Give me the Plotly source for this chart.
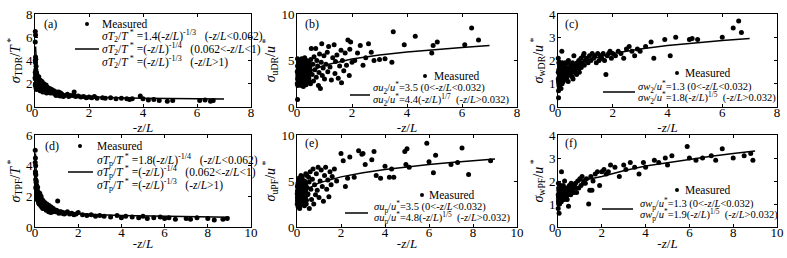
import plotly.graph_objects as go

W, H = 787, 258

# ---------------- data ----------------
a_x = [0.01,0.02,0.01,0.02,0.03,0.02,0.04,0.03,0.05,0.02,
       0.06,0.04,0.08,0.10,0.05,0.12,0.07,0.15,0.10,0.20,
       0.18,0.25,0.22,0.30,0.28,0.35,0.40,0.38,0.45,0.50,
       0.55,0.60,0.65,0.70,0.75,0.80,0.85,0.90,0.95,1.00,
       1.05,1.10,1.20,1.25,1.30,1.40,1.45,1.50,1.60,1.70,
       1.80,1.90,2.00,2.10,2.20,2.30,2.50,2.60,2.80,3.00,
       3.20,3.40,3.50,3.60,3.90,4.00,4.20,4.40,4.60,4.90,
       5.10,6.10,6.30,6.50,6.60,0.02,0.03,0.05,0.06,0.08,
       0.09,0.11,0.13,0.14,0.16,0.17,0.19,0.21,0.23,0.24,
       0.26,0.27,0.29,0.31,0.33,0.34,0.36,0.39,0.41,0.43,
       0.46,0.48,0.52,0.57,0.62,0.67,0.72,0.78,0.83,0.88,
       0.93,0.98,0.01,0.00,0.01,0.02,0.01,0.04,0.06,0.03]
a_y = [6.5,6.2,5.6,4.3,4.1,3.8,3.5,3.2,3.0,2.8,
       2.9,2.6,2.7,2.5,2.3,2.4,2.1,2.2,1.9,2.3,
       1.8,2.0,1.6,1.9,1.5,1.7,1.6,1.3,1.5,1.4,
       1.6,1.3,1.2,1.4,1.1,1.3,1.2,1.0,1.2,1.1,
       0.9,1.0,1.1,0.9,1.0,1.0,1.3,0.9,0.95,0.85,
       0.9,0.8,0.85,0.8,0.9,0.75,0.8,0.75,0.8,0.7,
       0.75,0.7,0.65,0.7,0.95,0.7,0.6,0.65,0.55,0.5,
       0.55,0.55,0.6,0.5,0.55,2.0,1.8,1.7,2.2,1.9,
       2.4,1.7,2.0,2.6,1.6,2.3,1.4,2.1,1.8,1.5,
       2.2,1.7,1.3,1.6,2.0,1.4,1.8,1.5,1.9,1.2,
       1.7,1.3,1.5,1.2,1.5,1.3,1.2,1.0,1.1,1.3,
       0.95,1.05,1.9,2.5,3.0,2.4,4.0,1.6,1.5,2.0]
fit_a_x = [0.02,0.04,0.062,0.1,0.2,0.4,0.6,1,1.5,2,3,4,5,6,7]
fit_a_y = [5.2,4.1,3.5,1.8,1.5,1.26,1.14,1.0,0.93,0.88,0.8,0.76,0.73,0.71,0.69]

b_x = [0.02,0.01,0.02,0.03,0.04,0.05,0.06,0.02,0.07,0.08,
       0.09,0.10,0.11,0.12,0.13,0.14,0.15,0.16,0.17,0.18,
       0.19,0.20,0.21,0.22,0.23,0.24,0.25,0.26,0.27,0.28,
       0.30,0.31,0.32,0.33,0.35,0.36,0.38,0.40,0.41,0.43,
       0.45,0.47,0.49,0.50,0.52,0.55,0.58,0.60,0.62,0.65,
       0.68,0.70,0.72,0.75,0.78,0.80,0.82,0.85,0.88,0.90,
       0.92,0.95,0.98,1.00,1.05,1.10,1.12,1.15,1.20,1.25,
       1.30,1.35,1.38,1.40,1.45,1.50,1.55,1.60,1.62,1.65,
       1.70,1.75,1.80,1.85,1.90,1.92,1.95,2.00,2.10,2.20,
       2.30,2.40,2.50,2.60,2.70,2.80,3.00,3.20,3.50,3.45,
       3.90,4.30,4.90,4.95,5.10,6.10,6.35,6.60,0.03,0.05,
       0.07,0.09,0.11,0.13,0.15,0.17,0.19,0.21,0.23,0.25,
       0.27,0.29,0.31,0.34,0.37,0.39,0.42,0.44,0.46,0.48,
       0.04,0.06,0.08,0.12,0.14,0.18,0.22,0.26,0.32,0.36,
       0.01,0.02,0.03,0.04,0.05,0.06,0.07,0.08,0.09,0.10,
       0.11,0.12,0.13,0.14,0.15,0.16,0.17,0.18,0.19,0.20,
       0.21,0.22,0.24,0.26,0.28,0.30,0.33,0.35,0.38,0.42]
b_y = [0.8,2.5,3.0,3.5,4.0,4.5,5.0,5.2,2.8,3.3,
       3.8,4.3,4.8,2.4,3.1,3.6,4.1,4.6,5.2,2.7,
       3.4,3.9,4.4,4.9,2.2,3.0,3.5,4.2,4.7,5.3,
       2.6,3.2,3.7,4.5,5.0,2.9,3.4,4.0,4.6,3.1,
       3.8,4.3,2.5,5.1,6.3,3.5,4.6,2.8,5.4,4.0,
       6.3,3.2,5.0,4.4,2.3,3.7,5.7,2.0,4.8,6.8,
       3.4,4.2,5.5,3.0,4.6,5.9,3.8,6.5,4.3,2.9,
       5.3,6.7,3.6,4.9,5.6,3.1,4.4,6.1,2.6,5.0,
       3.9,5.8,4.5,7.2,3.4,6.2,7.0,4.8,5.0,5.8,
       6.6,4.5,5.3,6.8,5.9,5.0,5.1,5.2,8.1,4.8,
       6.7,7.6,5.8,6.6,7.0,6.7,8.5,7.2,2.3,2.7,
       3.6,4.1,2.9,3.3,5.0,3.8,2.6,4.6,3.9,2.4,
       3.2,4.9,3.5,2.8,4.3,3.0,3.6,4.8,2.7,3.9,
       3.3,4.2,2.6,3.7,4.5,3.1,2.9,4.0,3.5,3.0,
       3.8,4.4,2.6,3.2,3.9,2.5,4.1,4.9,2.9,3.6,
       2.6,4.0,4.6,3.0,3.7,2.3,4.3,3.3,4.9,2.9,
       3.7,4.2,3.3,2.9,3.8,4.3,2.4,3.9,4.9,3.4]
fit_b_x = [0.05,0.2,0.5,1,2,3,4,5,6,7]
fit_b_y = [2.46,3.25,3.9,4.48,5.15,5.58,5.91,6.19,6.41,6.6]

c_x = [0.02,0.01,0.02,0.03,0.04,0.05,0.06,0.07,0.08,0.09,
       0.10,0.11,0.12,0.13,0.14,0.15,0.16,0.17,0.18,0.19,
       0.20,0.22,0.24,0.26,0.28,0.30,0.32,0.34,0.36,0.38,
       0.40,0.42,0.45,0.48,0.50,0.53,0.56,0.60,0.63,0.66,
       0.70,0.73,0.76,0.80,0.84,0.88,0.92,0.96,1.00,1.05,
       1.10,1.15,1.20,1.25,1.30,1.35,1.40,1.45,1.50,1.55,
       1.60,1.65,1.70,1.75,1.80,1.85,1.90,1.95,2.00,2.10,
       2.20,2.30,2.40,2.50,2.60,2.70,2.80,2.90,3.00,3.20,
       3.40,3.50,3.90,4.10,4.30,4.80,4.90,5.10,6.00,6.40,
       6.60,6.70,0.15,0.25,0.35,0.55,0.65,0.75,0.85,0.95,
       0.01,0.03,0.05,0.07,0.09,0.11,0.13,0.21,0.23,0.27,
       0.29,0.31,0.33,0.37,0.43,0.47,0.52,0.58,0.68,0.78,
       0.01,0.02,0.03,0.04,0.05,0.06,0.07,0.08,0.09,0.10,
       0.12,0.14,0.16,0.18,0.20,0.22,0.25,0.28,0.30,0.35]
c_y = [0.4,2.1,0.7,1.6,0.9,1.4,1.1,1.8,1.0,1.5,
       1.3,0.8,1.7,1.2,2.4,1.0,1.5,1.3,1.8,1.1,
       1.4,1.6,1.2,1.9,1.4,1.5,1.7,1.3,1.6,2.0,
       1.5,1.7,1.4,1.8,1.6,1.9,1.5,1.7,1.8,1.6,
       1.9,1.7,2.0,1.8,2.1,1.9,2.2,1.8,2.0,2.1,
       1.9,2.2,2.0,2.3,2.1,2.2,1.9,2.3,2.0,2.2,
       2.1,2.3,2.0,1.4,2.2,2.3,2.4,2.1,2.3,2.2,
       2.4,2.3,2.1,2.5,2.6,2.4,2.2,2.5,2.4,2.6,
       2.8,2.1,2.9,2.2,3.0,2.9,2.95,2.9,3.0,3.4,
       3.7,3.2,1.9,1.7,1.9,1.2,1.5,1.6,1.7,2.3,
       1.2,1.0,0.8,1.3,1.6,1.4,1.1,1.3,1.7,1.5,
       1.2,1.3,1.5,1.1,1.4,1.5,1.3,2.2,1.4,1.5,
       1.5,1.1,1.9,1.3,0.9,1.7,1.3,1.5,1.8,1.1,
       1.5,1.3,1.7,1.5,1.2,1.8,1.5,1.6,1.3,1.6]
fit_c_x = [0.05,0.2,0.5,1,2,3,4,5,6,7]
fit_c_y = [1.1,1.45,1.74,2.0,2.3,2.49,2.64,2.76,2.86,2.95]

d_x = [0.01,0.02,0.01,0.03,0.02,0.04,0.03,0.05,0.06,0.04,
       0.08,0.07,0.10,0.09,0.12,0.11,0.14,0.15,0.18,0.20,
       0.22,0.25,0.28,0.30,0.33,0.35,0.38,0.40,0.45,0.50,
       0.55,0.60,0.65,0.70,0.75,0.80,0.85,0.90,0.95,1.00,
       1.05,1.10,1.20,1.30,1.40,1.50,1.60,1.70,1.80,1.90,
       2.00,2.20,2.40,2.60,2.80,3.00,3.20,3.50,3.80,4.00,
       4.20,4.50,4.80,5.00,5.20,5.50,5.80,6.00,6.20,6.50,
       7.00,7.20,7.50,8.00,8.30,8.70,8.90,0.02,0.05,0.07,
       0.09,0.13,0.16,0.19,0.23,0.26,0.31,0.36,0.42,0.47,
       0.52,0.58,0.63,0.68,0.73,0.83,0.93,1.15,1.25,1.35]
d_y = [5.0,4.5,4.2,4.0,3.6,3.4,3.1,2.9,3.0,2.6,
       2.7,2.4,2.5,2.2,2.6,2.0,2.3,1.9,2.1,1.8,
       2.2,1.7,2.0,1.6,1.8,1.5,1.7,1.4,1.6,1.3,
       1.5,1.2,1.4,1.1,1.3,1.0,1.2,1.1,1.0,1.1,
       1.7,0.9,1.0,0.95,0.9,1.0,0.85,0.9,0.8,0.85,
       0.95,0.8,0.75,0.8,0.7,0.75,0.7,0.65,0.75,0.6,
       0.7,0.65,0.6,0.7,0.55,0.6,0.65,0.55,0.6,0.5,
       0.55,0.5,0.6,0.55,0.45,0.5,0.55,3.5,2.5,2.1,
       1.8,1.9,1.6,1.5,1.7,1.4,1.3,1.2,1.4,1.2,
       1.1,1.3,1.0,1.2,0.95,1.0,1.05,1.0,0.9,0.85]
fit_d_x = [0.02,0.04,0.062,0.1,0.2,0.4,0.6,1,1.5,2,3,4,5,6,7,8,9]
fit_d_y = [4.8,4.0,3.6,1.78,1.5,1.26,1.14,1.0,0.92,0.87,0.8,0.75,0.72,0.69,0.67,0.65,0.63]

e_x = [0.01,0.02,0.03,0.04,0.05,0.06,0.07,0.08,0.09,0.10,
       0.11,0.12,0.13,0.14,0.15,0.16,0.17,0.18,0.19,0.20,
       0.22,0.24,0.26,0.28,0.30,0.32,0.34,0.36,0.38,0.40,
       0.43,0.46,0.50,0.53,0.56,0.60,0.63,0.66,0.70,0.73,
       0.76,0.80,0.84,0.88,0.92,0.96,1.00,1.05,1.10,1.15,
       1.20,1.25,1.30,1.35,1.40,1.45,1.50,1.55,1.60,1.70,
       1.80,2.00,2.10,2.20,2.30,2.40,2.60,2.80,2.95,3.00,
       3.10,3.40,3.50,3.60,3.80,4.00,4.20,4.30,4.40,4.90,
       4.95,5.00,5.10,5.90,6.00,6.20,6.30,7.00,7.30,7.50,
       7.80,8.80,0.03,0.05,0.07,0.09,0.11,0.13,0.17,0.21,
       0.23,0.27,0.29,0.31,0.35,0.39,0.42,0.45,0.48,0.55,
       0.02,0.04,0.06,0.08,0.12,0.14,0.18,0.25,0.33,0.37,
       0.01,0.02,0.03,0.04,0.05,0.06,0.07,0.08,0.09,0.10,
       0.12,0.14,0.16,0.18,0.20,0.22,0.26,0.30,0.34,0.40]
e_y = [2.5,3.2,4.0,4.6,2.2,3.6,5.0,2.8,4.2,3.4,
       4.8,2.0,3.8,4.4,2.6,5.2,3.0,4.0,2.4,4.7,
       3.3,5.5,2.7,4.1,3.7,5.0,2.3,4.5,3.2,5.8,
       2.9,4.3,3.6,5.4,2.0,6.0,4.1,3.0,5.2,6.3,
       2.5,4.6,3.5,5.8,4.0,6.5,3.2,5.0,6.2,4.4,
       2.8,5.6,6.5,4.1,5.1,3.3,6.0,4.6,5.5,6.3,
       5.0,8.0,7.2,4.4,5.3,7.6,5.4,8.3,7.9,8.0,
       6.8,7.3,8.2,5.6,5.3,6.6,5.4,6.3,5.4,8.2,
       6.8,8.5,6.5,9.1,7.1,5.9,7.8,6.8,7.0,8.6,
       5.7,7.2,2.9,4.3,3.1,5.3,2.6,4.6,3.4,2.9,
       5.1,3.6,4.9,2.8,3.9,4.7,2.5,5.6,3.5,4.9,
       3.8,3.0,2.4,4.5,3.9,2.7,5.6,4.4,3.1,4.0,
       3.6,4.4,2.8,3.3,4.8,2.9,3.9,4.5,3.1,2.7,
       3.4,4.8,3.7,2.9,3.5,4.3,3.2,4.1,5.0,3.8]
fit_e_x = [0.05,0.2,0.5,1,2,3,4,5,6,7,8,9]
fit_e_y = [2.63,3.48,4.18,4.8,5.45,5.9,6.25,6.55,6.8,7.02,7.22,7.4]

f_x = [0.01,0.02,0.03,0.04,0.05,0.06,0.07,0.08,0.09,0.10,
       0.12,0.14,0.16,0.18,0.20,0.22,0.24,0.26,0.28,0.30,
       0.33,0.36,0.40,0.44,0.48,0.52,0.56,0.60,0.65,0.70,
       0.75,0.80,0.85,0.90,0.95,1.00,1.05,1.10,1.15,1.20,
       1.30,1.40,1.50,1.55,1.60,1.70,1.80,1.90,2.00,2.10,
       2.20,2.30,2.40,2.60,2.80,3.00,3.10,3.30,3.50,3.70,
       3.90,4.00,4.40,4.60,4.90,5.00,5.20,5.90,6.00,6.30,
       6.60,7.00,7.20,7.50,8.00,8.50,8.80,8.90,0.02,0.04,
       0.06,0.08,0.11,0.13,0.15,0.17,0.19,0.21,0.25,0.29,
       0.34,0.38,0.42,0.50,0.58,0.62,0.68,0.78,1.25,1.45,
       0.01,0.02,0.03,0.04,0.05,0.06,0.07,0.08,0.09,0.10,
       0.12,0.14,0.16,0.18,0.22,0.26,0.32,0.44,0.55,0.72]
f_y = [0.8,1.9,1.2,1.6,0.6,1.4,1.0,1.8,1.3,1.5,
       1.1,1.7,2.4,1.3,1.6,1.2,1.8,1.4,1.5,2.0,
       1.3,1.6,1.7,1.4,0.9,1.8,1.5,1.9,1.6,1.7,
       1.8,1.9,1.5,2.0,1.7,2.1,1.8,2.2,1.9,2.0,
       2.1,1.0,2.2,1.6,2.0,2.3,2.4,1.8,2.4,2.5,
       2.3,2.4,2.7,2.6,2.2,2.7,2.5,2.8,2.6,2.3,
       2.8,2.6,2.9,2.8,3.0,2.7,3.1,3.5,3.0,2.9,
       3.0,3.1,2.9,3.4,3.0,3.1,3.2,2.9,1.3,1.0,
       1.7,1.2,1.5,1.3,1.1,1.6,1.4,1.3,1.5,1.2,
       1.4,1.3,1.2,1.5,1.4,1.6,1.5,1.7,1.9,1.6,
       1.4,1.1,1.7,1.0,1.5,1.2,1.6,1.3,1.1,1.8,
       1.4,1.2,1.5,1.7,1.4,1.6,1.7,1.6,1.7,1.5]
fit_f_x = [0.05,0.2,0.5,1,2,3,4,5,6,7,8,9]
fit_f_y = [1.2,1.5,1.8,2.0,2.2,2.45,2.65,2.8,2.95,3.08,3.2,3.3]

panel_labels = ["(a)", "(b)", "(c)", "(d)", "(e)", "(f)"]
y_titles = [
    "<i>σ</i><sub>TDR</sub>/<i>T</i><sup> *</sup>",
    "<i>σ</i><sub>uDR</sub>/<i>u</i><sup> *</sup>",
    "<i>σ</i><sub>wDR</sub>/<i>u</i><sup> *</sup>",
    "<i>σ</i><sub>TPF</sub>/<i>T</i><sup> *</sup>",
    "<i>σ</i><sub>uPF</sub>/<i>u</i><sup> *</sup>",
    "<i>σ</i><sub>wPF</sub>/<i>u</i><sup> *</sup>",
]
x_ticks_top = [0, 2, 4, 6, 8]
x_ticks_bot = [0, 2, 4, 6, 8, 10]
y_ticks = [[0, 2, 4, 6, 8], [0, 5, 10], [0, 1, 2, 3, 4],
           [0, 2, 4, 6], [0, 5, 10], [0, 1, 2, 3, 4]]

zl = "-<i>z</i>/<i>L</i>"
sp = "&#160;&#160;&#160;"
n1 = "&#160;"
legend_texts = [
    ["<i>σT</i><sub>2</sub>/<i>T</i><sup> *</sup>" + n1 + "=1.4(" + zl + ")<sup>-1/3</sup>" + sp + "(" + zl + "&lt;0.062)",
     "<i>σT</i><sub>2</sub>/<i>T</i><sup> *</sup>" + n1 + "=(" + zl + ")<sup>-1/4</sup>" + sp + "(0.062&lt;" + zl + "&lt;1)",
     "<i>σT</i><sub>2</sub>/<i>T</i><sup> *</sup>" + n1 + "=(" + zl + ")<sup>-1/3</sup>" + sp + "(" + zl + "&gt;1)"],
    ["<i>σu</i><sub>2</sub>/<i>u</i><sup>*</sup>=3.5 (0&lt;" + zl + "&lt;0.032)",
     "<i>σu</i><sub>2</sub>/<i>u</i><sup>*</sup>=4.4(" + zl + ")<sup>1/7</sup>" + n1 + n1 + "(" + zl + "&gt;0.032)"],
    ["<i>σw</i><sub>2</sub>/<i>u</i><sup>*</sup>=1.3 (0&lt;" + zl + "&lt;0.032)",
     "<i>σw</i><sub>2</sub>/<i>u</i><sup>*</sup>=1.8(" + zl + ")<sup>1/5</sup>" + n1 + n1 + "(" + zl + "&gt;0.032)"],
    ["<i>σT</i><sub>p</sub>/<i>T</i><sup> *</sup>" + n1 + "=1.8(" + zl + ")<sup>-1/4</sup>" + sp + "(" + zl + "&lt;0.062)",
     "<i>σT</i><sub>p</sub>/<i>T</i><sup> *</sup>" + n1 + "=(" + zl + ")<sup>-1/4</sup>" + sp + "(0.062&lt;" + zl + "&lt;1)",
     "<i>σT</i><sub>p</sub>/<i>T</i><sup> *</sup>" + n1 + "=(" + zl + ")<sup>-1/3</sup>" + sp + "(" + zl + "&gt;1)"],
    ["<i>σu</i><sub>p</sub>/<i>u</i><sup>*</sup>=3.5 (0&lt;" + zl + "&lt;0.032)",
     "<i>σu</i><sub>p</sub>/<i>u</i><sup>*</sup>=4.8(" + zl + ")<sup>1/5</sup>" + n1 + n1 + "(" + zl + "&gt;0.032)"],
    ["<i>σw</i><sub>p</sub>/<i>u</i><sup>*</sup>=1.3 (0&lt;" + zl + "&lt;0.032)",
     "<i>σw</i><sub>p</sub>/<i>u</i><sup>*</sup>=1.9(" + zl + ")<sup>1/5</sup>" + n1 + n1 + "(" + zl + "&gt;0.032)"],
]
legend_font_sizes = [11.5, 10.5, 10.5, 11.5, 10.5, 10.5]

# ---------------- layout geometry (pixels) ----------------
x_doms_px = [(35, 251), (297, 517), (558, 777)]
y_doms_px = [(14, 107), (135, 227)]
legend_px = [
    dict(dot=(87, 24), mx=100, fx=100, fy=[36, 49, 62], line=(75, 99, 49)),
    dict(dot=(425, 76), mx=432, fx=371, fy=[88, 100], line=(350, 370, 95)),
    dict(dot=(677, 73), mx=683, fx=636, fy=[87, 97.5], line=(603, 635, 92)),
    dict(dot=(80, 146), mx=95, fx=95, fy=[160, 172, 185], line=(68, 93, 172)),
    dict(dot=(422, 195), mx=427, fx=372, fy=[207, 217.5], line=(345, 368, 213)),
    dict(dot=(677, 190), mx=683, fx=638, fy=[204, 215], line=(602, 633, 209)),
]
label_px = [(42, 24), (303, 24), (563, 24), (43, 146), (303, 143), (563, 143)]


def PX(x):
    return x / W


def PY(y):
    return 1 - y / H


FONT = "Liberation Serif, Times New Roman, serif"

scatter_x = [a_x, b_x, c_x, d_x, e_x, f_x]
scatter_y = [a_y, b_y, c_y, d_y, e_y, f_y]
fit_x = [fit_a_x, fit_b_x, fit_c_x, fit_d_x, fit_e_x, fit_f_x]
fit_y = [fit_a_y, fit_b_y, fit_c_y, fit_d_y, fit_e_y, fit_f_y]

fig = go.Figure()
layout = dict(width=W, height=H, margin=dict(l=0, r=0, t=0, b=0),
              paper_bgcolor="white", plot_bgcolor="white", showlegend=False,
              font=dict(family=FONT, color="black", size=12))
annotations = []
shapes = []

for i in range(6):
    row, col = divmod(i, 3)
    sfx = "" if i == 0 else str(i + 1)
    xa, ya = "x" + sfx, "y" + sfx
    fig.add_trace(go.Scatter(x=scatter_x[i], y=scatter_y[i], mode="markers",
                             marker=dict(color="black", size=5, line=dict(width=0)),
                             xaxis=xa, yaxis=ya, cliponaxis=False))
    fig.add_trace(go.Scatter(x=fit_x[i], y=fit_y[i], mode="lines",
                             line=dict(color="black", width=1.5),
                             xaxis=xa, yaxis=ya))
    x0, x1 = x_doms_px[col]
    y0, y1 = y_doms_px[row]
    xt = x_ticks_top if row == 0 else x_ticks_bot
    common = dict(showline=True, linecolor="black", linewidth=1, mirror="ticks",
                  ticks="inside", ticklen=3, tickcolor="black", showgrid=False,
                  zeroline=False, automargin=False,
                  tickfont=dict(family=FONT, size=13, color="black"))
    layout["xaxis" + sfx] = dict(domain=[PX(x0), PX(x1)], anchor=ya,
                                 range=[0, xt[-1]], tickvals=xt,
                                 ticklabelstandoff=-7,
                                 title=dict(text=zl, standoff=0,
                                            font=dict(family=FONT, size=13)),
                                 **common)
    layout["yaxis" + sfx] = dict(domain=[PY(y1), PY(y0)], anchor=xa,
                                 range=[0, y_ticks[i][-1]], tickvals=y_ticks[i],
                                 ticklabelstandoff=-1,
                                 title=dict(text=y_titles[i], standoff=2,
                                            font=dict(family=FONT, size=14)),
                                 **common)
    lx, ly = label_px[i]
    annotations.append(dict(text=panel_labels[i], x=PX(lx), y=PY(ly), xref="paper",
                            yref="paper", xanchor="left", yanchor="middle",
                            showarrow=False, font=dict(family=FONT, size=12)))
    lg = legend_px[i]
    dx, dy = lg["dot"]
    shapes.append(dict(type="circle", xref="paper", yref="paper",
                       x0=PX(dx - 2), x1=PX(dx + 2), y0=PY(dy + 2), y1=PY(dy - 2),
                       fillcolor="black", line=dict(width=0)))
    annotations.append(dict(text="Measured", x=PX(lg["mx"]), y=PY(dy), xref="paper",
                            yref="paper", xanchor="left", yanchor="middle",
                            showarrow=False, font=dict(family=FONT, size=11.5)))
    for t, fy in zip(legend_texts[i], lg["fy"]):
        annotations.append(dict(text=t, x=PX(lg["fx"]), y=PY(fy), xref="paper",
                                yref="paper", xanchor="left", yanchor="middle",
                                showarrow=False,
                                font=dict(family=FONT, size=legend_font_sizes[i])))
    lx0, lx1, lyy = lg["line"]
    shapes.append(dict(type="line", xref="paper", yref="paper",
                       x0=PX(lx0), x1=PX(lx1), y0=PY(lyy), y1=PY(lyy),
                       line=dict(color="black", width=1.5)))

layout["annotations"] = annotations
layout["shapes"] = shapes
fig.update_layout(**layout)
fig.write_html("out.html", config={"displayModeBar": False},
               post_script="document.body.style.margin='0';")
